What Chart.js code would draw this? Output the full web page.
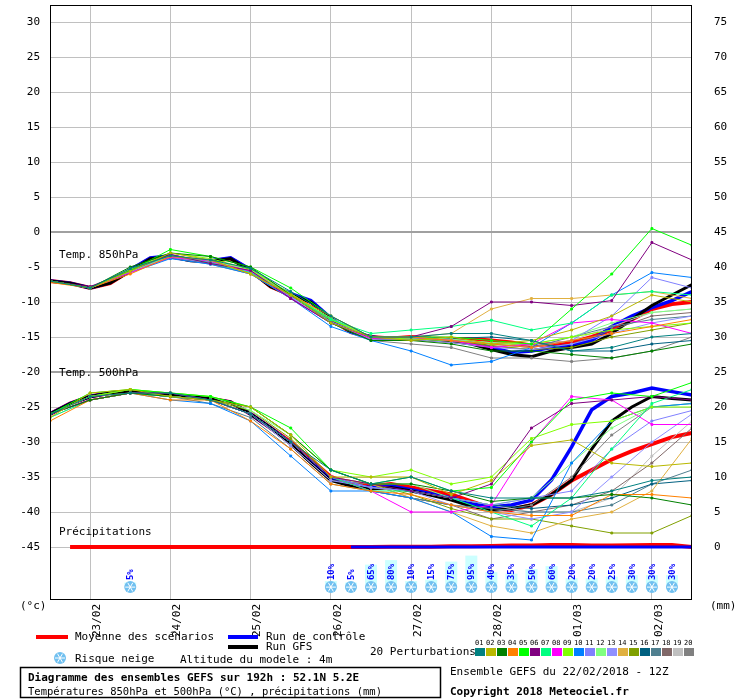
<!DOCTYPE html>
<html>
<head>
<meta charset="utf-8">
<script src="https://cdn.jsdelivr.net/npm/chart.js@4"></script>
<style>
  body { margin: 0; background: #fff; }
  #wrap { width: 740px; height: 700px; }
</style>
</head>
<body>
<div id="wrap"><canvas id="gefs" width="740" height="700"></canvas></div>
<script>
// hours since run (22/02/2018 12Z)
var hours6  = [0,6,12,18,24,30,36,42,48,54,60,66,72,78,84,90,96,102,108,114,120,126,132,138,144,150,156,162,168,174,180,186,192];
var hours12 = [0,12,24,36,48,60,72,84,96,108,120,132,144,156,168,180,192];
var dateTicks  = [12,36,60,84,108,132,156,180];
var dateLabels = ['23/02','24/02','25/02','26/02','27/02','28/02','01/03','02/03'];

// 850 hPa
var mean850 = [-7,-7.3,-8,-7.3,-5.5,-3.8,-3.5,-4,-4.2,-3.8,-5.5,-7.8,-9,-10,-12.5,-14.3,-15,-15.2,-15,-15.2,-15.3,-15.3,-15.5,-15.8,-16.2,-16,-15.8,-15,-14,-12.5,-11,-10.3,-10];
var ctrl850 = [-7,-7.3,-8,-7.2,-5.4,-3.7,-3.4,-4,-4.1,-3.7,-5.4,-7.6,-8.8,-9.8,-12.3,-14.2,-15,-15.3,-15.1,-15.3,-15.5,-15.8,-16.5,-17.2,-17,-16.5,-16.2,-15.5,-13.5,-12,-10.8,-9.8,-8.5];
var gfs850  = [-7,-7.3,-8,-7.3,-5.6,-3.8,-3.5,-4.1,-4.2,-3.8,-5.6,-7.8,-9,-10,-12.4,-14.3,-15,-15.3,-15.2,-15.4,-15.6,-16,-16.8,-17.5,-17.8,-17,-16.5,-16,-14.5,-12.5,-10.5,-9,-7.5];
var pert850 = [
  [-7,-8,-5.2,-3.4,-4.0,-5.2,-8.5,-12.0,-15.0,-15.0,-14.5,-14.5,-15.5,-17.0,-16.5,-15.0,-14.5],
  [-7,-8,-5.6,-3.0,-4.0,-6.0,-9.0,-13.0,-15.0,-15.5,-15.0,-16.0,-15.5,-14.0,-12.0,-9.0,-10.0],
  [-7,-8,-5.0,-3.0,-3.5,-5.0,-9.0,-13.0,-15.5,-15.5,-16.0,-17.0,-17.0,-17.5,-18.0,-17.0,-16.0],
  [-7.2,-8,-6.0,-3.5,-4.0,-6.0,-9.0,-12.0,-15.0,-15.0,-15.5,-16.0,-16.5,-15.5,-14.5,-13.5,-12.5],
  [-7,-8,-5.5,-2.5,-3.5,-5.0,-8.0,-12.0,-15.0,-15.0,-15.0,-15.5,-16.0,-11.0,-6.0,0.5,-1.9],
  [-7,-7.8,-5.5,-3.2,-4.5,-5.5,-9.5,-13.0,-15.0,-15.0,-13.5,-10.0,-10.0,-10.5,-9.8,-1.5,-4.0],
  [-7,-8,-5.5,-3.3,-4.4,-5.8,-9.0,-12.5,-14.5,-14.0,-13.5,-12.6,-14.0,-13.0,-9.0,-8.5,-9.0],
  [-7,-8,-5.8,-3.6,-4.2,-5.6,-9.5,-13.0,-15.2,-15.0,-15.5,-16.5,-16.0,-13.0,-12.5,-13.0,-14.5],
  [-7,-8,-5.3,-3.0,-3.8,-5.3,-8.8,-12.5,-15.0,-15.3,-15.5,-16.0,-16.0,-15.0,-14.0,-13.5,-13.0],
  [-7,-8,-5.8,-3.8,-4.6,-6.0,-9.5,-13.5,-15.5,-17.0,-19.0,-18.5,-16.5,-13.0,-9.0,-5.8,-6.5],
  [-7,-8,-5.4,-3.3,-4.3,-5.7,-9.2,-12.8,-15.0,-15.2,-15.5,-16.0,-16.5,-15.5,-12.0,-6.5,-8.0],
  [-7,-8,-5.7,-3.5,-4.1,-5.4,-8.8,-12.3,-15.0,-15.0,-15.3,-15.8,-16.0,-15.0,-13.0,-11.5,-11.0],
  [-7,-8,-5.5,-3.6,-4.4,-5.8,-9.3,-13.0,-15.3,-15.3,-15.8,-16.5,-16.8,-16.0,-14.5,-13.0,-12.0],
  [-7,-8,-5.4,-3.4,-4.0,-5.5,-9.0,-12.5,-15.0,-15.0,-14.5,-11.0,-9.5,-9.5,-9.0,-8.5,-9.5],
  [-7,-8,-5.6,-3.5,-4.3,-5.6,-9.1,-12.6,-15.1,-15.2,-15.6,-16.2,-16.8,-16.5,-15.0,-14.0,-13.0],
  [-7,-8,-5.5,-3.5,-4.2,-5.5,-9.0,-12.8,-15.2,-15.0,-15.2,-15.0,-15.5,-17.0,-17.0,-16.0,-15.5],
  [-7,-8,-5.3,-3.3,-4.2,-5.5,-9.0,-12.5,-15.0,-15.2,-15.5,-16.0,-16.5,-15.0,-13.5,-12.5,-12.0],
  [-7,-8,-5.6,-3.6,-4.5,-5.8,-9.4,-13.0,-15.3,-15.4,-15.8,-16.3,-16.8,-16.0,-14.0,-12.0,-11.5],
  [-7,-8,-5.5,-3.4,-4.2,-5.5,-9.0,-12.5,-15.0,-15.1,-15.4,-15.8,-16.2,-15.5,-13.5,-11.5,-11.0],
  [-7,-8,-5.7,-3.7,-4.6,-6.0,-9.5,-13.0,-15.5,-16.0,-16.5,-18.0,-18.0,-18.5,-18.0,-17.0,-15.0]
];

// 500 hPa
var mean500 = [-26,-24.5,-23.5,-23,-22.8,-23,-23.3,-23.5,-23.8,-24.3,-26,-28,-30,-32.5,-35,-36,-36.3,-36,-36.5,-37,-37.5,-38.5,-39.5,-39.7,-39,-37.5,-35.5,-34,-32.5,-31.3,-30.3,-29.3,-28.7];
var ctrl500 = [-26,-24.5,-23.5,-23,-22.8,-23,-23.3,-23.5,-23.8,-24.3,-26,-28,-30.2,-32.8,-35.3,-36.2,-36.5,-36.3,-36.8,-37.4,-38,-38.8,-39.3,-39,-38.3,-35.4,-30.7,-25.4,-23.5,-23,-22.3,-22.8,-23.3];
var gfs500  = [-26,-24.5,-23.5,-23,-22.8,-23,-23.3,-23.5,-23.8,-24.3,-26,-28,-30.3,-33,-35.5,-36.3,-36.7,-36.5,-37,-37.6,-38.3,-39.2,-39.8,-39.5,-39,-37.5,-35.5,-31,-27,-25,-23.5,-23.8,-24];
var pert500 = [
  [-26,-23.5,-23,-23,-24,-26,-30,-34,-36,-35,-37,-38,-38,-38,-37,-35.5,-35],
  [-26.5,-23,-22.5,-23.5,-24,-25,-29,-35,-35,-35,-37.5,-35.5,-30.5,-29.7,-33,-33.5,-33],
  [-26,-24,-23,-23.5,-24,-25,-29,-34,-36,-36,-37,-38.5,-38,-38,-37.5,-38,-39],
  [-27,-24,-23,-24,-24,-27,-31,-36,-37,-37.5,-39,-40,-40.5,-40.5,-37.5,-37.5,-38],
  [-26,-23,-22.5,-23,-23.5,-25,-28,-34,-36,-35,-37,-36.5,-30,-24,-23,-23.5,-21.5],
  [-26,-24,-23,-23,-24,-26,-30,-35,-36,-37,-38,-36,-28,-24.5,-24,-23.5,-24],
  [-26.5,-24,-23,-23.5,-24,-26,-30,-35,-37,-37,-38,-40,-42,-38,-31,-24.5,-22.5],
  [-26,-24,-23,-23,-24,-26,-30,-35,-37,-40,-40,-39,-30,-23.5,-24,-27.5,-27.5],
  [-26,-23.5,-22.5,-23,-23.5,-25,-29,-34,-35,-34,-36,-35,-29.5,-27.5,-27,-25,-25],
  [-26,-24,-23,-24,-24.5,-27,-32,-37,-37,-38,-40,-43.5,-44,-33,-27,-25,-24.5],
  [-26,-24,-23,-23.5,-24,-26,-30,-35,-36.5,-37,-38,-39,-38,-37,-31,-27,-25.5],
  [-26,-23.5,-22.5,-23,-23.5,-25.5,-29,-34,-36,-36,-38,-39,-38,-33,-28,-25,-24.5],
  [-26,-24,-23,-23.5,-24,-26,-30.5,-35.5,-36.5,-37,-39,-40,-41,-40,-35,-30,-26],
  [-26,-23.5,-23,-23.5,-24,-26,-30,-35,-36,-38,-40,-42,-43,-41,-40,-37,-29.5],
  [-26,-24,-23,-23.5,-24,-25.5,-29.5,-35,-36,-37.5,-39.5,-41,-41,-42,-43,-43,-40.5],
  [-26,-24,-23,-23.5,-24,-26,-30,-35,-36.5,-37,-38,-39,-39.5,-39,-38,-36,-35.5],
  [-26,-24,-23,-23.5,-24.5,-26.5,-31,-36,-37,-38,-39,-39.5,-40,-40,-39,-36,-34],
  [-26,-24,-23,-23.5,-24,-26,-30,-35,-37,-38,-39,-41,-40,-39,-37,-33,-28],
  [-26.5,-24,-23,-23.5,-24,-26,-30,-35,-36.5,-37,-38,-39,-40,-40,-38,-32,-27],
  [-26,-24,-23,-23.5,-24,-26,-30.5,-35.5,-36,-38,-39,-40,-39,-35,-29,-25,-24.5]
];
var pertColors = ['#008080','#b8b800','#008000','#ff8000','#00ff00','#800080','#00ff80','#ff00ff','#80ff00','#0080ff',
                  '#8080ff','#80ff80','#9090ff','#e0b040','#80a000','#006080','#508090','#806868','#c0c0c0','#808080'];

// precipitation (mm), drawn on the -45 baseline
var meanPrecip = [null,0,0,0,0,0,0,0,0,0,0,0,0,0,0,0,0,0.05,0.05,0.05,0.1,0.1,0.15,0.2,0.2,0.3,0.3,0.2,0.2,0.25,0.3,0.3,0];
var ctrlPrecip = [null,null,null,null,null,null,null,null,null,null,null,null,null,null,null,0,0,0,0,0,0,0,0,0,0,0,0,0,0,0,0,0,0];

// snow risk (%)
var snowHours = [24,84,90,96,102,108,114,120,126,132,138,144,150,156,162,168,174,180,186];
var snowRisk  = [5,10,5,65,80,10,15,75,95,40,35,50,60,20,20,25,30,30,30];

function pts(hs, vals, offset) {
  return vals.map(function (v, i) { return { x: hs[i], y: v === null ? null : v + (offset || 0) }; });
}

var datasets = [];
pert850.forEach(function (p, i) {
  datasets.push({ data: pts(hours12, p), borderColor: pertColors[i], backgroundColor: pertColors[i], borderWidth: 1, pointRadius: 1.3, pointStyle: 'rect' });
});
pert500.forEach(function (p, i) {
  datasets.push({ data: pts(hours12, p), borderColor: pertColors[i], backgroundColor: pertColors[i], borderWidth: 1, pointRadius: 1.3, pointStyle: 'rect' });
});
datasets.push({ data: pts(hours6, ctrlPrecip, -45), borderColor: '#0000ff', borderWidth: 3, pointRadius: 0 });
datasets.push({ data: pts(hours6, meanPrecip, -45), borderColor: '#ff0000', borderWidth: 4, pointRadius: 0 });
datasets.push({ data: pts(hours6, gfs850), borderColor: '#000000', borderWidth: 3, pointRadius: 0 });
datasets.push({ data: pts(hours6, gfs500), borderColor: '#000000', borderWidth: 3, pointRadius: 0 });
datasets.push({ data: pts(hours6, ctrl850), borderColor: '#0000ff', borderWidth: 3.5, pointRadius: 0 });
datasets.push({ data: pts(hours6, ctrl500), borderColor: '#0000ff', borderWidth: 3.5, pointRadius: 0 });
datasets.push({ data: pts(hours6, mean850), borderColor: '#ff0000', borderWidth: 4, pointRadius: 0 });
datasets.push({ data: pts(hours6, mean500), borderColor: '#ff0000', borderWidth: 4, pointRadius: 0 });

var MONO = '"DejaVu Sans Mono", monospace';

function snowflake(ctx, x, y) {
  ctx.save();
  ctx.fillStyle = '#70c0f0';
  ctx.beginPath(); ctx.arc(x, y, 6, 0, Math.PI * 2); ctx.fill();
  ctx.strokeStyle = '#ffffff'; ctx.lineWidth = 1;
  for (var a = 0; a < 3; a++) {
    var ang = a * Math.PI / 3;
    ctx.beginPath();
    ctx.moveTo(x - Math.cos(ang) * 5, y - Math.sin(ang) * 5);
    ctx.lineTo(x + Math.cos(ang) * 5, y + Math.sin(ang) * 5);
    ctx.stroke();
  }
  ctx.restore();
}

var extras = {
  id: 'extras',
  beforeDatasetsDraw: function (chart) {
    var ctx = chart.ctx, xs = chart.scales.x, ys = chart.scales.y;
    // snow risk bars
    snowHours.forEach(function (h, i) {
      var x = xs.getPixelForValue(h);
      var base = ys.getPixelForValue(-50.3);
      var top = base - snowRisk[i] * 0.3;
      ctx.fillStyle = '#ccffff';
      ctx.fillRect(x - 6, top, 12, base - top);
    });
  },
  afterDatasetsDraw: function (chart) {
    var ctx = chart.ctx, xs = chart.scales.x, ys = chart.scales.y, a = chart.chartArea;
    ctx.save();
    ctx.fillStyle = '#000'; ctx.font = '11px ' + MONO; ctx.textBaseline = 'alphabetic'; ctx.textAlign = 'left';
    ctx.fillText('Temp. 850hPa', a.left + 9, ys.getPixelForValue(-3.7));
    ctx.fillText('Temp. 500hPa', a.left + 9, ys.getPixelForValue(-20.5));
    ctx.fillText('Précipitations', a.left + 9, ys.getPixelForValue(-43.3));
    snowHours.forEach(function (h, i) {
      var x = xs.getPixelForValue(h);
      var yb = ys.getPixelForValue(-50.3);
      snowflake(ctx, x, yb + 3);
      ctx.save();
      ctx.translate(x + 3, yb - 4);
      ctx.rotate(-Math.PI / 2);
      ctx.fillStyle = '#0000ff'; ctx.font = 'bold 9px ' + MONO; ctx.textAlign = 'left';
      ctx.fillText(snowRisk[i] + '%', 0, 0);
      ctx.restore();
    });
    ctx.strokeStyle = '#000'; ctx.lineWidth = 1;
    ctx.strokeRect(a.left + 0.5, a.top + 0.5, a.right - a.left - 1, a.bottom - a.top - 1);
    ctx.restore();
  },
  afterDraw: function (chart) {
    var ctx = chart.ctx;
    ctx.save();
    ctx.fillStyle = '#000'; ctx.font = '11px ' + MONO; ctx.textAlign = 'left'; ctx.textBaseline = 'middle';
    ctx.fillText('(°c)', 20, 606);
    ctx.fillText('(mm)', 710, 606);
    // legend
    ctx.fillStyle = '#ff0000'; ctx.fillRect(36, 635, 32, 4);
    ctx.fillStyle = '#0000ff'; ctx.fillRect(228, 635, 30, 4);
    ctx.fillStyle = '#000000'; ctx.fillRect(228, 645, 30, 4);
    ctx.fillStyle = '#000'; ctx.font = '11px ' + MONO;
    ctx.fillText('Moyenne des scénarios', 75, 637);
    ctx.fillText('Run de contrôle', 266, 637);
    ctx.fillText('Run GFS', 266, 647);
    snowflake(ctx, 60, 658);
    ctx.fillText('Risque neige', 75, 659);
    ctx.fillText('Altitude du modele : 4m', 180, 660);
    ctx.fillText('20 Perturbations', 370, 652);
    ctx.font = '7px ' + MONO;
    pertColors.forEach(function (c, i) {
      var x = 475 + i * 11;
      ctx.fillStyle = c; ctx.fillRect(x, 648, 10, 8);
      ctx.fillStyle = '#000'; ctx.fillText((i < 9 ? '0' : '') + (i + 1), x, 643);
    });
    // title box
    ctx.strokeStyle = '#000'; ctx.lineWidth = 1.5;
    ctx.strokeRect(20.5, 667.5, 420, 30);
    ctx.font = 'bold 11px ' + MONO; ctx.fillText('Diagramme des ensembles GEFS sur 192h : 52.1N 5.2E', 28, 678);
    ctx.font = '10.5px ' + MONO; ctx.fillText('Températures 850hPa et 500hPa (°C) , précipitations (mm)', 28, 692);
    ctx.font = '11px ' + MONO; ctx.fillText('Ensemble GEFS du 22/02/2018 - 12Z', 450, 672);
    ctx.font = 'bold 11px ' + MONO; ctx.fillText('Copyright 2018 Meteociel.fr', 450, 692);
    ctx.restore();
  }
};

var yTicks = [30,25,20,15,10,5,0,-5,-10,-15,-20,-25,-30,-35,-40,-45];

new Chart(document.getElementById('gefs'), {
  type: 'line',
  data: { datasets: datasets },
  plugins: [extras],
  options: {
    responsive: false,
    animation: false,
    spanGaps: false,
    layout: { padding: 0 },
    plugins: { legend: { display: false }, tooltip: { enabled: false } },
    scales: {
      x: {
        type: 'linear', min: 0, max: 192,
        afterBuildTicks: function (s) { s.ticks = dateTicks.map(function (v) { return { value: v }; }); },
        afterFit: function (s) { s.height = 100; s.paddingLeft = 0; s.paddingRight = 0; },
        ticks: {
          autoSkip: false, minRotation: 90, maxRotation: 90, color: '#000', padding: 4, labelOffset: 7,
          font: { family: MONO, size: 11 },
          callback: function (v) { return dateLabels[dateTicks.indexOf(v)]; }
        },
        grid: { color: '#c0c0c0', drawTicks: false },
        border: { display: false }
      },
      y: {
        position: 'left', min: -52.57, max: 32.43,
        afterBuildTicks: function (s) { s.ticks = yTicks.map(function (v) { return { value: v }; }); },
        afterFit: function (s) { s.width = 50; s.paddingTop = 0; s.paddingBottom = 0; },
        ticks: { color: '#000', font: { family: MONO, size: 11 }, padding: 10 },
        grid: {
          drawTicks: false,
          color: function (c) { return c.tick && (c.tick.value === 0 || c.tick.value === -20) ? '#a0a0a0' : '#c0c0c0'; },
          lineWidth: function (c) { return c.tick && (c.tick.value === 0 || c.tick.value === -20) ? 2 : 1; }
        },
        border: { display: false }
      },
      y2: {
        position: 'right', min: -52.57, max: 32.43,
        afterBuildTicks: function (s) { s.ticks = yTicks.map(function (v) { return { value: v }; }); },
        afterFit: function (s) { s.width = 48; s.paddingTop = 0; s.paddingBottom = 0; },
        ticks: { color: '#000', font: { family: MONO, size: 11 }, padding: 14, callback: function (v) { return v + 45; } },
        grid: { display: false },
        border: { display: false }
      }
    }
  }
});
</script>
</body>
</html>
